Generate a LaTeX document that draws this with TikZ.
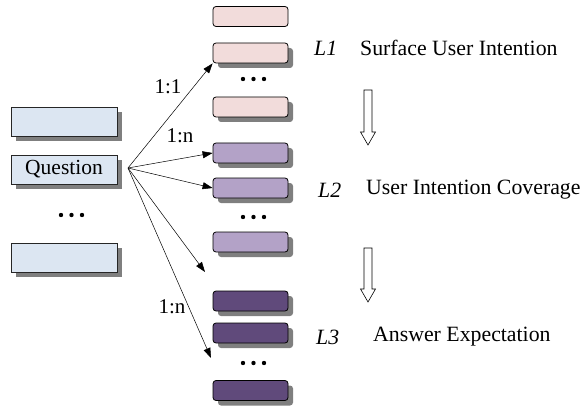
\documentclass[tikz,border=0pt]{standalone}
\usepackage{fontspec}
\setmainfont{Liberation Serif}
\usetikzlibrary{arrows.meta,shadows}
\definecolor{qblue}{HTML}{DCE6F2}
\definecolor{lpink}{HTML}{F2DCDB}
\definecolor{lpurple}{HTML}{B3A2C7}
\definecolor{dpurple}{HTML}{604A7B}
\definecolor{shadowgray}{HTML}{7F7F7F}
\begin{document}
\begin{tikzpicture}[x=1pt,y=-1pt,
  lbox/.style={draw=black!85,line width=0.8pt,fill=qblue,minimum width=106pt,minimum height=29pt,inner sep=0pt,
    font=\fontsize{21.5}{24}\selectfont,
    drop shadow={shadow xshift=5pt,shadow yshift=-5pt,fill=shadowgray,opacity=1}},
  rbox/.style={draw=black,line width=0.8pt,rounded corners=3pt,minimum width=75pt,minimum height=20pt,inner sep=0pt},
  shad/.style={drop shadow={shadow xshift=5pt,shadow yshift=-5pt,fill=shadowgray,opacity=1}},
  conn/.style={line width=0.5pt,-{Triangle[length=10pt,width=7pt]}},
  lab/.style={font=\fontsize{21}{24}\selectfont,inner sep=0pt},
  txt/.style={font=\fontsize{21.8}{24}\selectfont,inner sep=0pt,anchor=west},
  hollow/.style={draw=black,line width=0.6pt,fill=white}
]
\useasboundingbox (0,0) rectangle (581,409);
% left boxes
\node[lbox] (q1) at (64,121.5) {};
\node[lbox] (q) at (64,169.5) {Question};
\node[lbox] (q3) at (64,257.5) {};
\foreach \i in {0,1,2} \fill (61+\i*10.5,215) circle (2.2pt);
% right boxes
\node[rbox,fill=lpink] (p1) at (250.5,16.5) {};
\node[rbox,fill=lpink,shad] (p2) at (250.5,53) {};
\node[rbox,fill=lpink,shad] (p3) at (250.5,107) {};
\node[rbox,fill=lpurple,shad] (m1) at (250.5,153) {};
\node[rbox,fill=lpurple,shad] (m2) at (250.5,188) {};
\node[rbox,fill=lpurple,shad] (m3) at (250.5,242) {};
\node[rbox,fill=dpurple,shad] (d1) at (250.5,301) {};
\node[rbox,fill=dpurple,shad] (d2) at (250.5,333) {};
\node[rbox,fill=dpurple,shad] (d3) at (250.5,390.5) {};
\foreach \y in {79,217,363} \foreach \i in {0,1,2} \fill (243+\i*10.5,\y) circle (2.2pt);
% connectors
\coordinate (src) at (128,168);
\coordinate (e4) at (205,272);
\coordinate (e5) at (211,358);
\draw[conn] (src) -- (p2.south west);
\draw[conn] (src) -- (m1.west);
\draw[conn] (src) -- (m2.west);
\draw[conn] (src) -- (e4);
\draw[conn] (src) -- (e5);
\node[lab] (l11) at (168,87) {1:1};
\node[lab] (l1n) at (180,136) {1:n};
\node[lab] (l1n2) at (172,307) {1:n};
% right texts
\node[txt] (L1) at (314,48) {\textit{L1}};
\node[txt] (t1) at (360,48) {Surface User Intention};
\node[txt] (L2) at (318,190) {\textit{L2}};
\node[txt] (t2) at (366,190) {User Intention Coverage};
\node[txt] (L3) at (316,337) {\textit{L3}};
\node[txt] (t3) at (373,337) {Answer Expectation};
% hollow arrows
\foreach \t/\b in {90/145,248/302}{
  \draw[hollow] (364,\t) -- (372,\t) -- (372,\b-13) -- (375.5,\b-13) -- (368,\b) -- (360.5,\b-13) -- (364,\b-13) -- cycle;
}
\end{tikzpicture}
\end{document}
